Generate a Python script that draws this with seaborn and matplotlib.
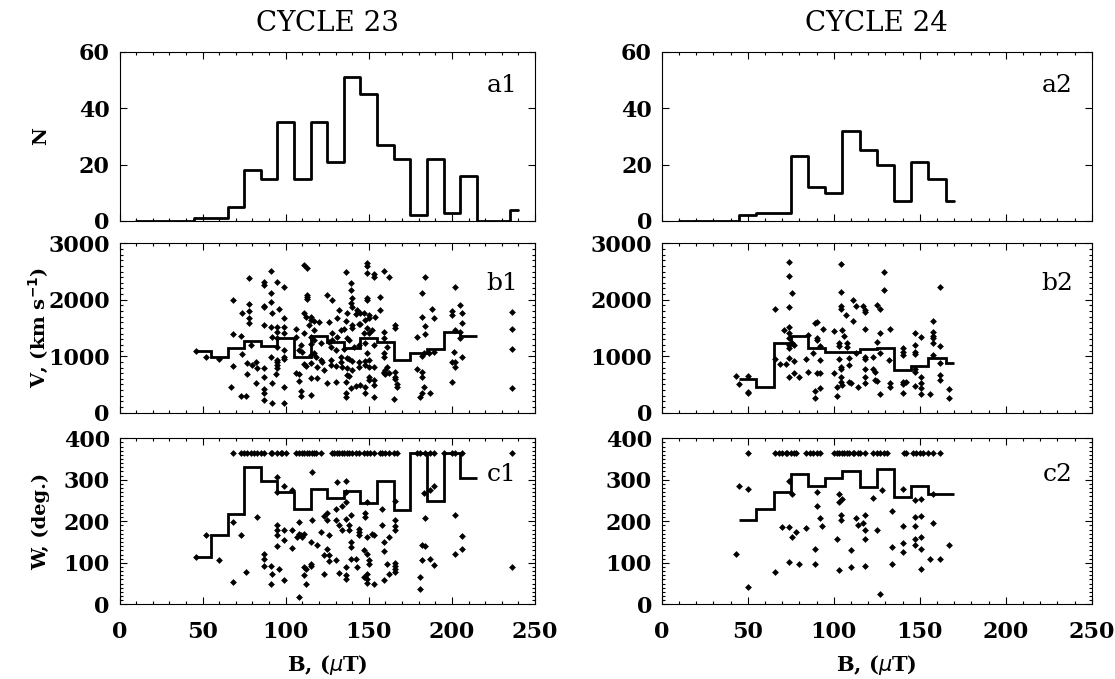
import numpy as np
import pandas as pd
import seaborn as sns
import matplotlib.pyplot as plt
from matplotlib.ticker import MultipleLocator

# ---- histograms of B (bin centres every 10 uT) ----
n_centres_23 = [10, 20, 30, 40, 50, 60, 70, 80, 90, 100, 110, 120, 130, 140, 150, 160,
                170, 180, 190, 200, 210, 220, 230, 240]
n_counts_23 = [0, 0, 0, 0, 1, 1, 5, 18, 15, 35, 15, 35, 21, 51, 45, 27, 22, 2, 22, 3, 16, 0, 0, 4]
n_centres_24 = [10, 20, 30, 40, 50, 60, 70, 80, 90, 100, 110, 120, 130, 140, 150, 160, 170]
n_counts_24 = [0, 0, 0, 0, 2, 3, 3, 23, 12, 10, 32, 25, 20, 7, 21, 15, 7]

# ---- bin means of V and W ----
mean_centres_23 = [50, 60, 70, 80, 90, 100, 110, 120, 130, 140, 150, 160, 170, 180, 190, 200, 210]
mean_end_23 = 215
v_mean_23 = [1100, 990, 1140, 1275, 1190, 1315, 990, 1360, 1260, 1140, 1315, 1260, 930, 1050, 1130, 1435, 1360]
w_mean_23 = [114, 166, 218, 332, 298, 270, 230, 277, 257, 274, 244, 298, 228, 365, 250, 365, 304]
mean_centres_24 = [50, 60, 70, 80, 90, 100, 110, 120, 130, 140, 150, 160, 170]
mean_end_24 = 170
v_mean_24 = [590, 460, 1230, 1360, 1140, 1080, 1080, 1120, 1140, 760, 830, 975, 885]
w_mean_24 = [204, 230, 270, 313, 286, 305, 322, 282, 326, 258, 286, 265, 265]

# ---- individual events: (B, V) ----
bv_23 = [(46,1100),(52,990),(60,945),(68,2000),(68,1395),(68,825),(67,460),(73,1360),(74,1770),(74,1040),
         (73,295),(76,300),(77,685),(78,2380),(78,1925),(78,1805),(78,1670),(78,1595),(79,1200),(77,875),
         (80,845),(82,890),(82,530),(83,785),(87,2320),(87,2260),(87,1890),(87,1865),(87,1555),(87,785),
         (87,640),(87,415),(87,345),(87,225),(91,2515),(91,2115),(91,1965),(92,1770),(91,1510),(92,1345),
         (91,990),(92,520),(92,180),(95,2320),(96,1830),(95,1525),(95,1435),(95,1315),(95,1170),(95,935),
         (95,905),(95,845),(95,785),(94,680),(99,2230),(99,1670),(99,1525),(99,1405),(99,1110),(99,980),
         (99,945),(99,450),(99,180),(106,1480),(106,1345),(106,710),(108,680),(108,560),(109,1200),(108,1110),
         (109,385),(109,300),(111,2615),(113,2555),(113,2085),(113,2045),(113,2010),(111,1770),(112,1700),(111,1405),
         (110,1080),(111,860),(112,825),(114,1555),(115,1690),(115,1640),(115,1345),(115,1215),(115,1020),(115,885),
         (115,610),(115,315),(117,1630),(117,1465),(117,1290),(117,1050),(118,990),(119,815),(119,620),(120,1610),
         (121,1230),(121,935),(122,905),(123,755),(125,2085),(125,520),(126,1610),(126,1260),(127,1170),(127,935),
         (127,845),(128,2000),(128,1405),(128,1290),(130,1110),(131,1670),(131,1345),(130,825),(130,550),(132,1820),
         (133,1465),(133,990),(133,905),(134,815),(135,1120),(135,1490),(136,550),(136,2500),(136,1625),(137,1760),
         (137,1315),(137,965),(137,785),(137,665),(136,345),(136,285),(138,1290),(138,945),(138,655),(139,2290),
         (139,2175),(140,2025),(139,1950),(140,1880),(140,1555),(140,1495),(140,920),(140,755),(139,430),(141,1170),
         (142,1750),(142,470),(143,1820),(144,1570),(144,1200),(144,905),(144,815),(145,1760),(145,1570),(145,490),
         (147,1405),(147,1770),(148,1640),(148,1230),(148,920),(148,845),(148,460),(148,345),(149,2645),(149,2600),
         (149,2470),(149,2025),(149,1995),(150,1730),(150,1670),(149,1495),(150,1405),(149,1050),(150,935),(150,815),
         (150,640),(150,580),(153,2450),(153,2400),(152,1465),(153,1200),(153,805),(153,580),(153,490),(153,285),
         (154,1690),(157,2055),(157,1820),(159,1435),(159,1315),(159,1050),(159,990),(159,725),(159,695),(159,2515),
         (160,685),(160,755),(161,1170),(161,815),(162,695),(162,2400),(165,235),(166,1555),(166,1505),(166,725),
         (166,640),(166,590),(167,510),(167,460),(179,1335),(182,1690),(182,2115),(184,2400),(184,1535),(184,1395),
         (183,1065),(181,285),(182,355),(183,450),(187,355),(179,770),(182,725),(182,640),(188,1830),(189,1670),
         (189,1080),(186,1050),(182,1005),(200,1800),(200,1730),(202,1465),(202,2220),(205,1910),(206,1760),(206,1595),
         (205,1435),(205,1315),(206,990),(201,1080),(200,905),(202,890),(202,815),(200,550),(236,1790),(236,1490),
         (236,1130),(236,435)]

bv_24 = [(43,655),(45,510),(50,655),(50,370),(50,345),(66,1845),(66,945),(69,855),(71,1465),(72,860),
         (74,2675),(74,2420),(74,1880),(74,1525),(74,1405),(74,1315),(74,1200),(74,1140),(74,965),(74,640),
         (76,1230),(76,2125),(77,915),(77,695),(77,1200),(80,640),(84,945),(85,725),(85,1375),(88,1050),
         (89,1585),(90,1610),(90,1315),(90,1290),(89,385),(89,255),(90,695),(92,1180),(92,935),(92,695),
         (92,445),(94,1475),(100,1455),(100,710),(102,295),(102,460),(103,1180),(103,1230),(103,945),(104,2635),
         (104,2145),(104,1890),(104,1830),(104,815),(104,770),(104,640),(104,550),(105,490),(105,1465),(106,1360),
         (107,1730),(108,1230),(108,1170),(109,965),(109,845),(109,550),(110,520),(111,2000),(111,1630),(113,1890),
         (113,1050),(114,460),(117,1890),(118,1820),(118,1790),(118,1475),(118,990),(118,945),(118,770),(118,640),
         (118,520),(123,990),(123,770),(124,725),(124,580),(125,1260),(125,565),(125,1910),(127,1830),(127,1405),
         (127,1050),(127,330),(129,2500),(129,2175),(132,935),(133,1475),(133,520),(133,460),(140,1140),(140,1080),
         (140,1020),(140,550),(140,500),(140,355),(142,550),(147,1405),(147,1200),(147,1080),(147,1040),(147,770),
         (147,725),(147,470),(151,1345),(151,640),(151,520),(151,430),(151,325),(156,325),(158,1630),(158,1435),
         (158,1360),(158,1315),(158,1230),(158,1020),(162,2220),(162,1180),(162,875),(162,665),(162,580),(167,420),
         (167,255)]

# ---- individual events: (B, W); halo events sit on the top row ----
halo_w = 365
halo_b_23 = [68, 73, 75, 77, 79, 81, 83, 85, 87, 91, 92, 95, 97, 98, 100, 106, 108, 110, 111, 113,
             114, 116, 117, 118, 121, 128, 129, 131, 132, 134, 135, 137, 138, 140, 142, 144, 147, 149, 151, 153,
             157, 158, 160, 162, 165, 167, 179, 181, 184, 187, 189, 195, 200, 202, 206, 236]
bw_23 = [(46,114),(52,166),(60,106),(68,198),(68,54),(73,166),(76,78),(83,210),(87,122),(87,110),
         (87,93),(91,93),(92,73),(91,50),(95,306),(95,270),(95,190),(95,180),(95,166),(95,140),
         (96,84),(99,284),(99,180),(99,154),(99,58),(104,276),(104,180),(104,136),(107,161),(108,198),
         (108,170),(109,166),(110,162),(111,170),(111,70),(112,48),(108,18),(111,90),(112,84),(116,318),
         (116,202),(115,150),(115,98),(115,92),(119,142),(121,174),(123,118),(123,74),(123,212),(125,220),
         (125,202),(126,166),(125,134),(126,118),(126,105),(130,202),(130,230),(131,294),(130,106),(132,76),
         (132,190),(134,238),(134,178),(136,296),(136,270),(136,246),(136,206),(136,90),(136,70),(136,60),
         (138,190),(138,180),(139,214),(139,150),(139,138),(139,110),(142,108),(143,90),(144,182),(144,166),
         (144,174),(147,130),(147,66),(148,220),(148,210),(149,246),(149,162),(149,122),(150,106),(150,98),
         (149,74),(149,62),(149,52),(152,170),(153,50),(153,166),(158,230),(158,190),(159,150),(159,129),
         (159,58),(161,98),(162,161),(162,74),(166,249),(166,202),(166,188),(166,178),(166,100),(166,92),
         (166,84),(166,78),(181,66),(181,38),(182,142),(184,140),(182,106),(184,209),(183,268),(187,276),
         (189,286),(187,108),(189,94),(202,214),(202,122),(206,164),(206,134),(236,90)]

halo_b_24 = [50, 66, 68, 70, 72, 73, 75, 77, 78, 84, 86, 88, 90, 92, 100, 102, 103, 105, 106, 108,
             109, 111, 112, 114, 115, 118, 123, 125, 127, 129, 131, 141, 142, 146, 148, 150, 152, 155, 158, 162]
bw_24 = [(43,122),(45,285),(50,278),(50,42),(66,77),(70,186),(74,186),(74,296),(74,101),(76,265),
         (76,161),(78,174),(80,98),(84,185),(89,134),(89,96),(90,270),(90,238),(92,209),(93,188),
         (102,157),(103,266),(103,246),(105,253),(104,214),(104,202),(103,82),(110,132),(110,90),(113,209),
         (114,190),(117,196),(118,214),(118,178),(118,158),(118,93),(123,257),(125,180),(128,276),(127,24),
         (134,226),(134,138),(134,97),(140,278),(140,188),(140,148),(140,126),(147,252),(147,210),(147,188),
         (147,157),(147,142),(151,254),(151,212),(151,161),(151,134),(151,86),(156,110),(158,265),(158,197),
         (162,109),(167,142)]

cycles = ['CYCLE 23', 'CYCLE 24']
panel_tags = [['a1', 'b1', 'c1'], ['a2', 'b2', 'c2']]

# ---------------------------------------------------------------
sns.set_theme(style='ticks')
plt.rcParams['font.family'] = ['DejaVu Serif']
plt.rcParams['axes.linewidth'] = 0.8
plt.rcParams['axes.edgecolor'] = 'black'
plt.rcParams['text.color'] = 'black'
plt.rcParams['axes.labelcolor'] = 'black'
plt.rcParams['xtick.color'] = 'black'
plt.rcParams['ytick.color'] = 'black'

fig = plt.figure(figsize=(11.15, 6.79), dpi=100)

W_px, H_px = 1115, 679
col_x = [(119.5, 415.5), (661.7, 430.0)]
row_y = [(51.7, 169.3), (243.3, 169.4), (438.3, 166.0)]

TICK_SIZE = 16


def style_axis(ax, bottom_row):
    ax.set_xlim(0, 250)
    ax.xaxis.set_major_locator(MultipleLocator(50))
    ax.xaxis.set_minor_locator(MultipleLocator(10))
    ax.tick_params(which='both', direction='in', top=True, right=True, width=0.8, colors='black')
    ax.tick_params(which='major', length=5)
    ax.tick_params(which='minor', length=2.5)
    ax.tick_params(axis='x', pad=12)
    ax.tick_params(axis='y', pad=7)
    if not bottom_row:
        ax.set_xticklabels([])
    for lab in ax.get_xticklabels() + ax.get_yticklabels():
        lab.set_fontsize(TICK_SIZE)
        lab.set_fontweight('bold')
    ax.set_xlabel('')
    ax.set_ylabel('')


all_n = [(n_centres_23, n_counts_23), (n_centres_24, n_counts_24)]
all_means = [(mean_centres_23, mean_end_23, v_mean_23, w_mean_23),
             (mean_centres_24, mean_end_24, v_mean_24, w_mean_24)]
all_bv = [bv_23, bv_24]
all_bw = [bw_23, bw_24]
all_halo = [halo_b_23, halo_b_24]

for c in range(2):
    x0, w = col_x[c]
    axes = []
    for r in range(3):
        y0, h = row_y[r]
        ax = fig.add_axes([x0 / W_px, 1 - (y0 + h) / H_px, w / W_px, h / H_px])
        axes.append(ax)
    ax_n, ax_v, ax_w = axes

    # histogram
    centres, counts = all_n[c]
    sns.lineplot(x=centres, y=counts, drawstyle='steps-mid', color='black', lw=2.0, ax=ax_n)
    ax_n.set_ylim(0, 60)
    ax_n.yaxis.set_major_locator(MultipleLocator(20))

    mc, mend, vm, wm = all_means[c]
    edges = np.append(np.array(mc) - 5, mend)

    # speed
    bv = pd.DataFrame(all_bv[c], columns=['B', 'V'])
    sns.scatterplot(data=bv, x='B', y='V', marker='D', s=12, color='black', linewidth=0, ax=ax_v)
    ax_v.stairs(vm, edges, color='black', lw=2.0, baseline=None)
    ax_v.set_ylim(0, 3000)
    ax_v.yaxis.set_major_locator(MultipleLocator(1000))
    ax_v.yaxis.set_minor_locator(MultipleLocator(100))

    # width
    bw = pd.DataFrame(all_bw[c], columns=['B', 'W'])
    halo = pd.DataFrame({'B': all_halo[c], 'W': [halo_w] * len(all_halo[c])})
    bw = pd.concat([bw, halo], ignore_index=True)
    sns.scatterplot(data=bw, x='B', y='W', marker='D', s=12, color='black', linewidth=0, ax=ax_w)
    ax_w.stairs(wm, edges, color='black', lw=2.0, baseline=None)
    ax_w.set_ylim(0, 400)
    ax_w.yaxis.set_major_locator(MultipleLocator(100))
    ax_w.yaxis.set_minor_locator(MultipleLocator(10))

    tag_y = [0.80, 0.76, 0.78]
    for r, ax in enumerate(axes):
        style_axis(ax, r == 2)
        ax.text(0.92, tag_y[r], panel_tags[c][r], transform=ax.transAxes,
                ha='center', va='center', fontsize=18)

    ax_n.set_title(cycles[c], fontsize=20, pad=15)
    ax_w.set_xlabel(r'B, ($\mu$T)', fontsize=15, fontweight='bold', labelpad=7)

    if c == 0:
        ax_n.set_ylabel('N', fontsize=14, fontweight='bold')
        ax_v.set_ylabel(r'V, (km s$^{\mathbf{-1}}$)', fontsize=14, fontweight='bold')
        ax_w.set_ylabel('W, (deg.)', fontsize=14, fontweight='bold')
        for ax in axes:
            ax.yaxis.set_label_coords(-0.168, 0.5)

fig.savefig('out.png', dpi=100)
